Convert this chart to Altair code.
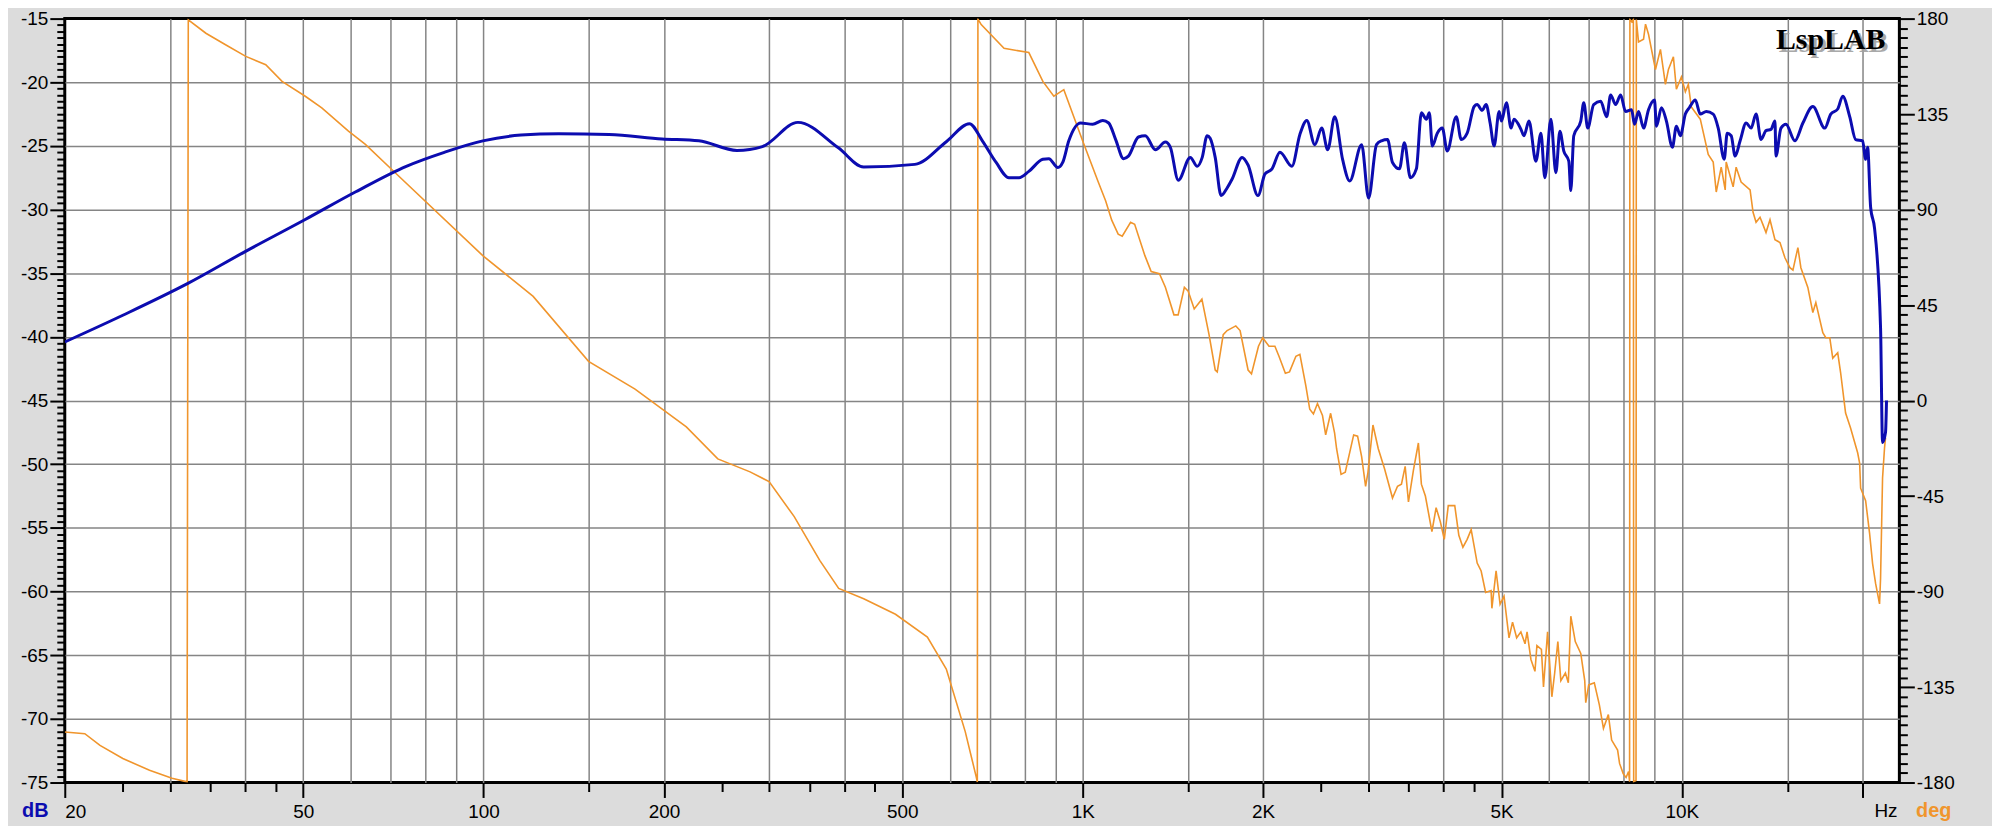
import altair as alt
import pandas as pd

# ---------------- data ----------------
# Magnitude response (blue): frequency in Hz, level in dB
mag_hz = [20, 25, 32.1, 40, 50.3, 61.2, 74.3, 86, 99.7, 115.5, 133.6, 162, 198.6, 228.7,
          264.8, 292, 334.7, 391, 431, 524.6, 592.7, 647, 680, 717, 753, 783, 813, 858,
          878, 909, 926, 948, 992, 1039, 1080, 1105, 1135, 1170, 1192, 1239, 1272, 1322,
          1374, 1400, 1444, 1512, 1553, 1583, 1613, 1632, 1664, 1702, 1742, 1776, 1845,
          1888, 1961, 2015, 2070, 2134, 2234, 2304, 2366, 2440, 2506, 2564, 2634, 2716,
          2790, 2921, 3000, 3093, 3153, 3227, 3289, 3378, 3443, 3523, 3605, 3675, 3746,
          3789, 3833, 3907, 3983, 4059, 4202, 4283, 4382, 4502, 4554, 4642, 4713, 4786,
          4860, 4955, 4999, 5096, 5187, 5247, 5389, 5451, 5557, 5707, 5818, 5907, 6045,
          6162, 6257, 6353, 6476, 6526, 6601, 6781, 6859, 6965, 7126, 7320, 7490, 7606,
          7753, 7903, 8055, 8243, 8337, 8466, 8631, 8797, 9001, 9070, 9246, 9424, 9643,
          9792, 9943, 10135, 10291, 10530, 10734, 10984, 11281, 11500, 11768, 11904,
          12087, 12273, 12510, 12801, 13048, 13300, 13557, 13818, 14085, 14302, 14357,
          14636, 14918, 15440, 15922, 16543, 17320, 17724, 18203, 18557, 19061, 19503,
          20033, 20264, 20419, 20656, 20974, 21461, 21626, 21874, 21958]
mag_db = [-40.4, -38.3, -35.8, -33.3, -30.8, -28.6, -26.6, -25.5, -24.6, -24.15, -24.05,
          -24.1, -24.45, -24.6, -25.35, -25.05, -23.15, -25.15, -26.65, -26.45, -24.65,
          -23.25, -24.6, -26.3, -27.5, -27.5, -27.0, -26.05, -26.0, -26.7, -26.3, -24.6,
          -23.2, -23.3, -23.0, -23.2, -24.5, -26.0, -25.8, -24.3, -24.2, -25.3, -24.7,
          -25.1, -27.7, -25.9, -26.6, -25.9, -24.2, -24.4, -25.9, -28.9, -28.3, -27.6,
          -25.9, -26.5, -28.9, -27.2, -26.8, -25.5, -26.6, -24.1, -23.0, -24.9, -23.6,
          -25.3, -22.7, -26.1, -27.75, -24.9, -29.1, -24.9, -24.6, -24.5, -26.3, -26.8,
          -24.75, -27.5, -26.8, -22.4, -22.9, -22.4, -25.0, -24.0, -23.6, -25.4, -22.7,
          -24.5, -24.0, -21.9, -21.75, -22.2, -21.75, -23.2, -25.0, -22.3, -23.05, -21.6,
          -23.6, -22.9, -23.7, -24.2, -23.05, -26.2, -24.0, -27.5, -22.9, -27.1, -23.85,
          -25.4, -26.2, -28.5, -24.2, -23.05, -21.6, -23.6, -21.75, -21.5, -22.7, -21.0,
          -21.75, -21.0, -22.3, -22.15, -23.3, -22.3, -23.6, -22.15, -21.4, -23.45, -22.0,
          -23.05, -25.1, -23.45, -24.2, -22.5, -22.0, -21.4, -22.5, -22.3, -22.5, -23.6,
          -26.05, -24.0, -24.2, -25.8, -24.6, -23.2, -23.6, -22.5, -24.5, -23.8, -23.7,
          -23.05, -25.8, -23.6, -23.3, -24.6, -23.2, -21.9, -23.6, -22.5, -22.1, -21.1,
          -22.7, -24.5, -24.6, -26.05, -25.1, -29.8, -31.5, -39.3, -48.3, -47.5, -45.0]

# Phase response (orange): frequency in Hz, phase in degrees (wrapped)
phase_hz = [20, 21.6, 22.9, 25.0, 27.7, 30.2, 32.0, 32.15, 34.4, 37.1, 40.1, 43.3, 46.1,
            50.4, 53.7, 59.5, 63.5, 70.7, 99.7, 121, 149.7, 179, 218, 246, 278.5, 299.6,
            330, 364, 391.5, 431, 487, 550.5, 592, 636.7, 664, 667, 668.5, 677, 739, 813,
            858, 895, 930, 1000, 1060, 1092, 1118, 1146, 1164, 1202, 1221, 1270, 1301,
            1343, 1374, 1420, 1443, 1478, 1500, 1535, 1581, 1625, 1664, 1677, 1716, 1742,
            1801, 1831, 1888, 1913, 1965, 1997, 2046, 2093, 2126, 2179, 2214, 2269, 2304,
            2357, 2393, 2427, 2465, 2513, 2544, 2593, 2633, 2653, 2699, 2743, 2833, 2876,
            2921, 2966, 2993, 3051, 3114, 3189, 3289, 3353, 3404, 3453, 3497, 3564, 3633,
            3675, 3732, 3827, 3889, 3952, 4013, 4075, 4178, 4244, 4311, 4382, 4450, 4554,
            4624, 4704, 4804, 4819, 4897, 4973, 5049, 5147, 5217, 5300, 5387, 5474, 5516,
            5599, 5686, 5729, 5829, 5876, 5969, 6068, 6134, 6209, 6281, 6392, 6464, 6526,
            6639, 6781, 6885, 6912, 6991, 7143, 7283, 7398, 7539, 7635, 7812, 7871, 7981,
            8071, 8148, 8180, 8190, 8250, 8300, 8310, 8385, 8395, 8466, 8631, 8697, 8797,
            9036, 9210, 9388, 9497, 9680, 9792, 9981, 10135, 10252, 10370, 10734, 11067,
            11281, 11413, 11633, 11813, 11858, 12179, 12320, 12558, 12998, 13148, 13300,
            13505, 13662, 13818, 14032, 14302, 14580, 14861, 15149, 15325, 15619, 15800,
            16229, 16543, 16735, 17190, 17388, 17656, 17859, 18203, 18408, 18762, 19124,
            19652, 19802, 19878, 20264, 20575, 20814, 21054, 21378, 21461, 21626, 21791,
            21874]
phase_deg = [-156.2, -157, -162.5, -168.7, -174.2, -178, -179.7, 179.4, 173.1, 167.7, 162.2,
             158.3, 150.4, 143.4, 137.9, 127, 120.7, 108.2, 68.3, 49.1, 18.5, 5.4, -12.4,
             -27.5, -33.6, -38.2, -54.7, -75.3, -88.5, -93.4, -100.7, -111.5, -126.5, -156,
             -177.2, -179.8, 179.8, 177.2, 166, 164, 150.4, 143.4, 146.5, 122.3, 103.5,
             94.2, 85, 78.4, 77.5, 84, 83.1, 68.3, 60.8, 59.8, 53.4, 40.4, 40.4, 53.4, 51.5,
             43.2, 47.8, 31.1, 14.4, 13.5, 31.1, 33, 35.2, 33, 14.4, 12.6, 25.6, 29.6, 25.6,
             25.6, 20.9, 12.9, 13.5, 20.9, 21.8, 7, -4.1, -6.3, -1.4, -7, -16.2, -6, -15.3,
             -22.7, -34.8, -33.8, -16.2, -16.8, -26.4, -40.4, -33.8, -11.5, -22.7, -32,
             -45.9, -40.4, -39.4, -31, -47.8, -32.9, -20, -39.4, -45, -61.7, -50.5, -57,
             -65.4, -49.5, -49.5, -63.5, -69.1, -65.4, -60.8, -76.6, -80.3, -90.4, -89.5,
             -97.9, -80.3, -96, -92.2, -111.8, -104.4, -111.8, -109, -114.6, -109, -122,
             -127.6, -115.5, -117.3, -135, -109, -139.6, -128.4, -113.6, -132, -128.4, -133,
             -101.6, -113.6, -119.2, -132, -142.4, -134, -133, -143.4, -154.5, -148, -160,
             -164.7, -171, -175.8, -177.6, -174.8, -179.6, 179.6, 178.5, 179.6, -179.6,
             -179, 179.6, 169, 170.3, 177.4, 172.6, 156, 165.5, 149, 156, 162, 146.7, 152.5,
             145.5, 149, 138.4, 132.6, 116, 112.4, 98.3, 110, 99.3, 112.4, 100.7, 110, 103,
             99.3, 88.7, 84, 86.4, 82.8, 79.2, 85.2, 75.8, 74.5, 67.3, 62.6, 61.5, 72.1,
             62.6, 53.3, 41.5, 46.2, 32, 29.6, 29.6, 20, 22.5, 13.1, -5.9, -12.9, -24.6,
             -29.5, -41.3, -47.2, -62.6, -76.8, -86.2, -95.8, -83.8, -36.5, -22.3, -17.6]

# axis furniture
x_ticks = [20, 25, 30, 35, 40, 45, 50, 100, 150, 200, 250, 300, 350, 400, 450, 500,
           1000, 1500, 2000, 2500, 3000, 3500, 4000, 4500, 5000, 10000, 15000, 20000]
x_grid = [30, 40, 50, 60, 70, 80, 90, 100, 150, 200, 300, 400, 500, 600, 700, 800, 900,
          1000, 1500, 2000, 3000, 4000, 5000, 6000, 7000, 8000, 9000, 10000, 15000, 20000]
x_labeled = [20, 50, 100, 200, 500, 1000, 2000, 5000, 10000]
x_long = x_labeled + [20000]
db_ticks = [v / 2 for v in range(-150, -29)]
deg_ticks = [-180 + 4.5 * i for i in range(81)]

BLUE = "#0c0cb0"
ORANGE = "#f0952c"
GRID = "#858585"
FONT = "Liberation Sans"
W, H = 1842, 767


def js(a):
    return "[" + ",".join(str(v) for v in a) + "]"


mag = pd.DataFrame({"hz": mag_hz, "db": mag_db})
ph = pd.DataFrame({"hz": phase_hz, "deg": phase_deg})

x_scale = alt.Scale(type="log", domain=[20, 23070], nice=False)


def make_x_axis():
    return alt.Axis(
        values=sorted(set(x_ticks) | set(x_grid)),
        labelExpr=(f"indexof({js(x_labeled)}, datum.value) >= 0 ? "
                   "(datum.value >= 1000 ? (datum.value / 1000) + 'K' : '' + datum.value) : ''"),
        tickSize={"condition": {"test": f"indexof({js(x_long)}, datum.value) >= 0", "value": 15}, "value": 9},
        tickOpacity={"condition": {"test": f"indexof({js(x_ticks)}, datum.value) >= 0", "value": 1}, "value": 0},
        gridOpacity={"condition": {"test": f"indexof({js(x_grid)}, datum.value) >= 0", "value": 1}, "value": 0},
        grid=True, gridColor=GRID, gridWidth=1.5,
        domain=False, tickColor="black", tickWidth=2,
        labelFont=FONT, labelFontSize=19, labelColor="black", labelPadding=5,
        labelFlush=True, labelOverlap=False,
        title="Hz", titleFont=FONT, titleFontSize=19, titleFontWeight="normal", titleColor="black",
        titleX=1828, titleY=34, titleAlign="center", titleBaseline="alphabetic",
    )


db_major = "datum.value % 5 === 0"
db_axis = alt.Axis(
    orient="left", values=db_ticks,
    labelExpr=f"{db_major} ? '' + datum.value : ''",
    tickSize={"condition": {"test": db_major, "value": 15}, "value": 8},
    grid=True, gridColor=GRID, gridWidth=1.5,
    gridOpacity={"condition": {"test": f"{db_major} && datum.value > -75 && datum.value < -15", "value": 1}, "value": 0},
    domain=False, tickColor="black", tickWidth=2,
    labelFont=FONT, labelFontSize=19, labelColor="black", labelPadding=2,
    labelFlush=False, labelOverlap=False,
    title="dB", titleFont=FONT, titleFontSize=20, titleFontWeight="bold", titleColor=BLUE,
    titleAngle=0, titleX=-30, titleY=801, titleAlign="center", titleBaseline="alphabetic",
)

deg_major = "datum.value % 45 === 0"
deg_axis = alt.Axis(
    orient="right", values=deg_ticks,
    labelExpr=f"{deg_major} ? '' + datum.value : ''",
    tickSize={"condition": {"test": deg_major, "value": 15}, "value": 8},
    grid=False, domain=False, tickColor="black", tickWidth=2,
    labelFont=FONT, labelFontSize=19, labelColor="black", labelPadding=2,
    labelFlush=False, labelOverlap=False,
    title="deg", titleFont=FONT, titleFontSize=20, titleFontWeight="bold", titleColor=ORANGE,
    titleAngle=0, titleX=34, titleY=801, titleAlign="center", titleBaseline="alphabetic",
)

phase_line = alt.Chart(ph).mark_line(color=ORANGE, strokeWidth=1.6, clip=True).encode(
    x=alt.X("hz:Q", scale=x_scale, axis=make_x_axis()),
    y=alt.Y("deg:Q", scale=alt.Scale(domain=[-180, 180], nice=False, zero=False), axis=deg_axis),
)

mag_line = alt.Chart(mag).mark_line(color=BLUE, strokeWidth=3, clip=True,
                                     interpolate="monotone").encode(
    x=alt.X("hz:Q", scale=x_scale, axis=make_x_axis()),
    y=alt.Y("db:Q", scale=alt.Scale(domain=[-75, -15], nice=False, zero=False), axis=db_axis),
)

logo_df = pd.DataFrame({"t": ["LspLAB"]})
logo_shadow = alt.Chart(logo_df).mark_text(
    font="Liberation Serif", fontSize=30, fontWeight="bold", align="right",
    baseline="alphabetic", color="#a0a0a0", opacity=0.9).encode(
    x=alt.value(1831), y=alt.value(34), text="t:N")
logo = alt.Chart(logo_df).mark_text(
    font="Liberation Serif", fontSize=30, fontWeight="bold", align="right",
    baseline="alphabetic", color="black").encode(
    x=alt.value(1828), y=alt.value(31), text="t:N")

chart = alt.layer(phase_line, mag_line, logo_shadow, logo).resolve_scale(
    y="independent"
).properties(
    width=W, height=H,
    autosize=alt.AutoSizeParams(type="none"),
    padding={"left": 57, "top": 9, "right": 93, "bottom": 42},
    background="#dcdcdc",
).configure_view(fill="white", stroke="black", strokeWidth=3)

chart.save("out.html", embed_options={"renderer": "svg", "actions": False})
